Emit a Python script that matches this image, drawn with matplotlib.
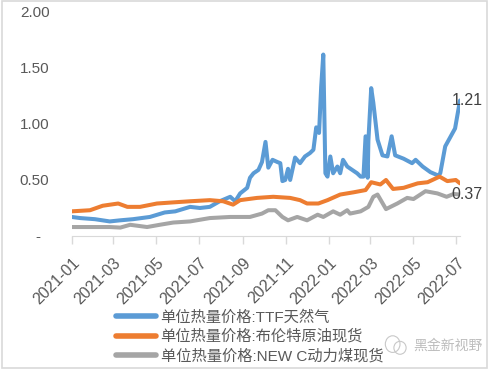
import numpy as np
import pandas as pd
import matplotlib
matplotlib.use('Agg')
import matplotlib.pyplot as plt
import matplotlib.dates as mdates
from matplotlib.patches import Rectangle, Ellipse

plt.rcParams['font.family'] = ['Liberation Sans', 'Noto Sans CJK SC', 'DejaVu Sans']

# unit heat price
ttf_dates = ['2021-01-01', '2021-01-13', '2021-02-03', '2021-02-24', '2021-03-11', '2021-03-29',
             '2021-04-22', '2021-05-13', '2021-05-28', '2021-06-18', '2021-07-02', '2021-07-16',
             '2021-07-30', '2021-08-14', '2021-08-21', '2021-08-28', '2021-09-07', '2021-09-11',
             '2021-09-16', '2021-09-23', '2021-09-28', '2021-10-03', '2021-10-07', '2021-10-13',
             '2021-10-20', '2021-10-24', '2021-10-27', '2021-10-31', '2021-11-04', '2021-11-07',
             '2021-11-14', '2021-11-21', '2021-11-28', '2021-12-05', '2021-12-10', '2021-12-14',
             '2021-12-18', '2021-12-21', '2021-12-24', '2021-12-27', '2021-12-30', '2022-01-03',
             '2022-01-07', '2022-01-13', '2022-01-17', '2022-01-21', '2022-01-27', '2022-02-03',
             '2022-02-10', '2022-02-15', '2022-02-19', '2022-02-22', '2022-02-25', '2022-02-26',
             '2022-03-02', '2022-03-05', '2022-03-11', '2022-03-18', '2022-03-25', '2022-03-31',
             '2022-04-05', '2022-04-17', '2022-04-29', '2022-05-04', '2022-05-14', '2022-05-25',
             '2022-06-05', '2022-06-08', '2022-06-15', '2022-06-29', '2022-07-06']
ttf = [0.17, 0.16, 0.15, 0.13, 0.14, 0.15,
       0.17, 0.21, 0.22, 0.26, 0.25, 0.26,
       0.31, 0.35, 0.31, 0.38, 0.43, 0.52,
       0.56, 0.59, 0.66, 0.84, 0.61, 0.68,
       0.66, 0.65, 0.49, 0.50, 0.60, 0.50,
       0.70, 0.65, 0.71, 0.74, 0.77, 0.97,
       0.92, 1.33, 1.62, 0.56, 0.53, 0.71,
       0.56, 0.62, 0.56, 0.68, 0.62, 0.59,
       0.56, 0.53, 0.53, 0.89, 0.52, 0.85,
       1.32, 1.19, 0.86, 0.72, 0.71, 0.89,
       0.72, 0.69, 0.65, 0.68, 0.62, 0.57,
       0.54, 0.56, 0.80, 0.96, 1.21]

brent_dates = ['2021-01-01', '2021-01-27', '2021-02-14', '2021-03-08', '2021-03-21', '2021-04-08',
               '2021-05-02', '2021-05-25', '2021-06-18', '2021-07-16', '2021-08-04', '2021-08-18',
               '2021-08-28', '2021-09-21', '2021-10-14', '2021-11-07', '2021-11-21', '2021-12-01',
               '2021-12-17', '2021-12-30', '2022-01-17', '2022-02-05', '2022-02-22', '2022-03-02',
               '2022-03-15', '2022-03-23', '2022-04-02', '2022-04-17', '2022-05-07', '2022-05-21',
               '2022-06-07', '2022-06-18', '2022-06-30', '2022-07-06']
brent = [0.22, 0.23, 0.27, 0.29, 0.26, 0.26,
         0.29, 0.30, 0.31, 0.32, 0.31, 0.28,
         0.32, 0.34, 0.35, 0.34, 0.32, 0.29,
         0.29, 0.32, 0.37, 0.39, 0.41, 0.48,
         0.46, 0.50, 0.42, 0.43, 0.47, 0.48,
         0.53, 0.49, 0.50, 0.47]

coal_dates = ['2021-01-01', '2021-02-24', '2021-03-11', '2021-03-25', '2021-04-18', '2021-05-06',
              '2021-05-25', '2021-06-18', '2021-07-16', '2021-08-14', '2021-09-11', '2021-09-28',
              '2021-10-07', '2021-10-17', '2021-10-27', '2021-11-04', '2021-11-17', '2021-12-01',
              '2021-12-16', '2021-12-24', '2022-01-07', '2022-01-17', '2022-01-27', '2022-01-31',
              '2022-02-15', '2022-02-26', '2022-03-05', '2022-03-11', '2022-03-23', '2022-04-08',
              '2022-04-22', '2022-05-01', '2022-05-18', '2022-06-04', '2022-06-17', '2022-06-27',
              '2022-07-06']
coal = [0.08, 0.08, 0.075, 0.10, 0.08, 0.10,
        0.12, 0.13, 0.16, 0.17, 0.17, 0.20,
        0.23, 0.23, 0.17, 0.14, 0.17, 0.14,
        0.19, 0.17, 0.22, 0.19, 0.23, 0.20,
        0.22, 0.26, 0.35, 0.37, 0.24, 0.29,
        0.34, 0.33, 0.40, 0.38, 0.35, 0.375,
        0.37]

names = ['单位热量价格:TTF天然气', '单位热量价格:布伦特原油现货', '单位热量价格:NEW C动力煤现货']
colors = ['#5b9bd5', '#ed7d31', '#a5a5a5']

fig = plt.figure(figsize=(4.89, 3.70), dpi=100)
ax = fig.add_axes([0.1466, 0.3622, 0.7941, 0.6054])

series = [(ttf_dates, ttf), (brent_dates, brent), (coal_dates, coal)]
handles = []
for (d, v), name, c in zip(series, names, colors):
    h, = ax.plot(pd.to_datetime(d), v, color=c, lw=2.9, label=name,
                 solid_joinstyle='round', solid_capstyle='round')
    handles.append(h)

# end labels
ax.annotate('1.21', (pd.Timestamp(ttf_dates[-1]), ttf[-1]), xytext=(5, 0),
            textcoords='offset points', ha='center', va='center', fontsize=11.5, color='#404040')
ax.annotate('0.37', (pd.Timestamp(coal_dates[-1]), coal[-1]), xytext=(5, 0),
            textcoords='offset points', ha='center', va='center', fontsize=11.5, color='#404040')

ax.set_ylim(0, 2.0)
ax.set_xlim(pd.Timestamp('2021-01-01'), pd.Timestamp('2022-07-06'))
ax.set_yticks([0, 0.5, 1.0, 1.5, 2.0])
ax.set_yticklabels(['-  ', '0.50', '1.00', '1.50', '2.00'])
ticks = pd.date_range('2021-01-01', '2022-07-01', freq='2MS')
ax.set_xticks(ticks)
ax.set_xticklabels([t.strftime('%Y-%m') for t in ticks], rotation=45, ha='right',
                   va='top', rotation_mode='anchor')

for s in ['top', 'right', 'left']:
    ax.spines[s].set_visible(False)
ax.spines['bottom'].set_color('#d9d9d9')
ax.tick_params(axis='y', length=0, pad=16, labelsize=11, labelcolor='#595959')
ax.tick_params(axis='x', length=6, width=1, color='#d9d9d9', pad=8, labelsize=11.5,
               labelcolor='#595959')

leg = fig.legend(handles=handles, loc='upper left', bbox_to_anchor=(0.222, 0.183),
                 frameon=False, fontsize=11, labelcolor='#595959', handlelength=2.6,
                 handletextpad=0.3, labelspacing=0.32, borderpad=0)
for line in leg.get_lines():
    line.set_linewidth(4)

# watermark
fig.text(0.845, 0.065, '黑金新视野', fontsize=10, color='#bdbdbd', ha='left', va='center')
fig.patches.append(Ellipse((0.803, 0.07), 0.03, 0.045, transform=fig.transFigure,
                           fill=False, ec='#c8c8c8', lw=0.8))
fig.patches.append(Ellipse((0.818, 0.06), 0.025, 0.035, transform=fig.transFigure,
                           fill=False, ec='#c8c8c8', lw=0.8))

# outer frame
fig.patches.append(Rectangle((0.004, 0.006), 0.992, 0.99, transform=fig.transFigure,
                             fill=False, ec='#d9d9d9', lw=1.2))

fig.savefig('out.png', dpi=100)
